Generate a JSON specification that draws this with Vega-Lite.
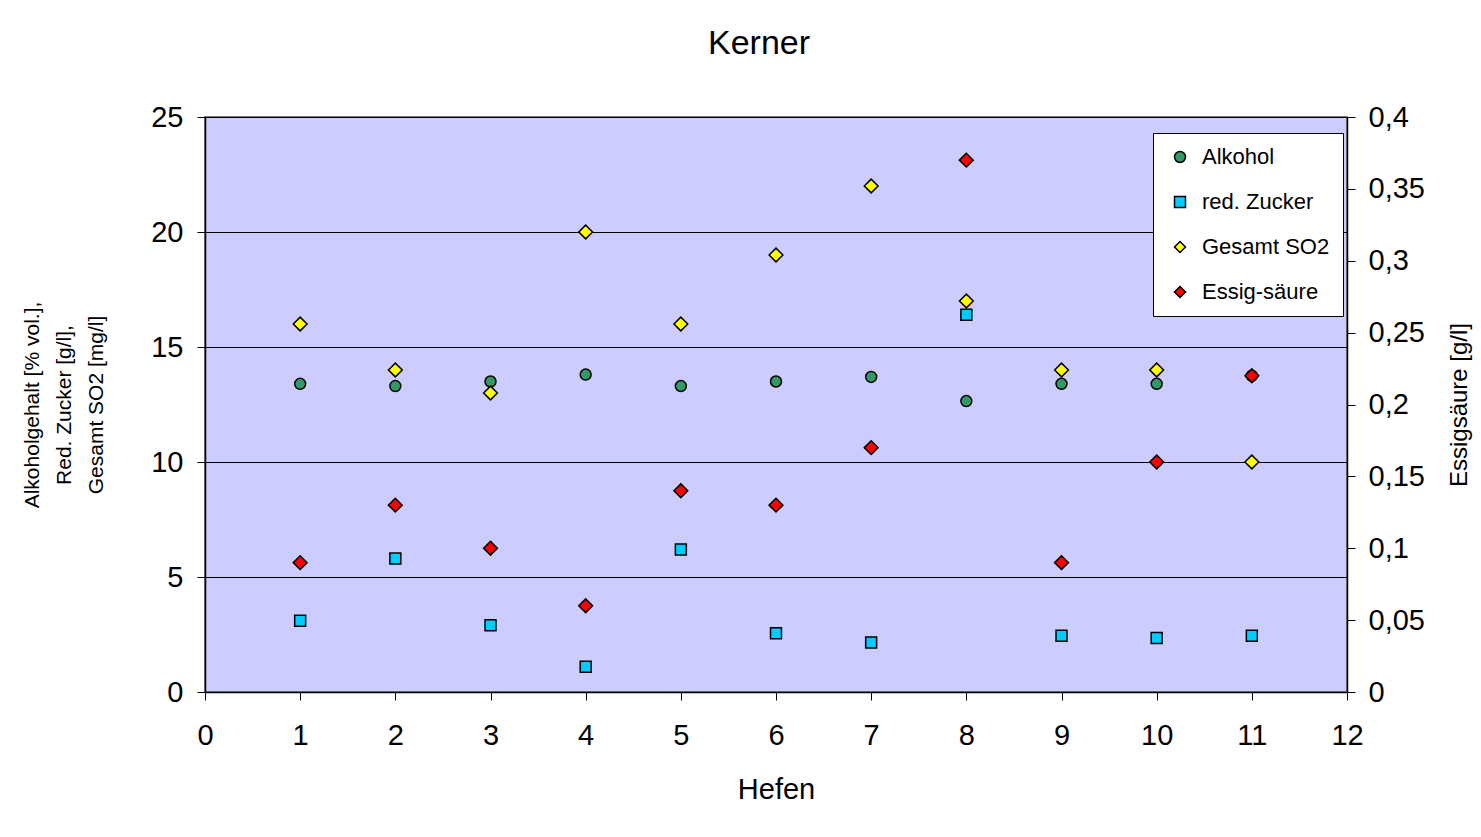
{
  "$schema": "https://vega.github.io/schema/vega-lite/v6.json",
  "autosize": {"type": "none"},
  "width": 1142,
  "height": 575,
  "padding": {"left": 205, "top": 117, "right": 134, "bottom": 145},
  "background": "white",
  "title": {
    "text": "Kerner",
    "fontSize": 34,
    "font": "Liberation Sans",
    "fontWeight": "normal",
    "color": "black",
    "anchor": "middle",
    "offset": 42,
    "dx": -17
  },
  "data": {
    "values": [
      {"hefe": 1, "series": "Alkohol", "value": 13.4},
      {"hefe": 2, "series": "Alkohol", "value": 13.3},
      {"hefe": 3, "series": "Alkohol", "value": 13.5},
      {"hefe": 4, "series": "Alkohol", "value": 13.8},
      {"hefe": 5, "series": "Alkohol", "value": 13.3},
      {"hefe": 6, "series": "Alkohol", "value": 13.5},
      {"hefe": 7, "series": "Alkohol", "value": 13.7},
      {"hefe": 8, "series": "Alkohol", "value": 12.65},
      {"hefe": 9, "series": "Alkohol", "value": 13.4},
      {"hefe": 10, "series": "Alkohol", "value": 13.4},
      {"hefe": 11, "series": "Alkohol", "value": 13.75},
      {"hefe": 1, "series": "red. Zucker", "value": 3.1},
      {"hefe": 2, "series": "red. Zucker", "value": 5.8},
      {"hefe": 3, "series": "red. Zucker", "value": 2.9},
      {"hefe": 4, "series": "red. Zucker", "value": 1.1},
      {"hefe": 5, "series": "red. Zucker", "value": 6.2},
      {"hefe": 6, "series": "red. Zucker", "value": 2.55},
      {"hefe": 7, "series": "red. Zucker", "value": 2.15},
      {"hefe": 8, "series": "red. Zucker", "value": 16.4},
      {"hefe": 9, "series": "red. Zucker", "value": 2.45},
      {"hefe": 10, "series": "red. Zucker", "value": 2.35},
      {"hefe": 11, "series": "red. Zucker", "value": 2.45},
      {"hefe": 1, "series": "Gesamt SO2", "value": 16},
      {"hefe": 2, "series": "Gesamt SO2", "value": 14},
      {"hefe": 3, "series": "Gesamt SO2", "value": 13},
      {"hefe": 4, "series": "Gesamt SO2", "value": 20},
      {"hefe": 5, "series": "Gesamt SO2", "value": 16},
      {"hefe": 6, "series": "Gesamt SO2", "value": 19},
      {"hefe": 7, "series": "Gesamt SO2", "value": 22},
      {"hefe": 8, "series": "Gesamt SO2", "value": 17},
      {"hefe": 9, "series": "Gesamt SO2", "value": 14},
      {"hefe": 10, "series": "Gesamt SO2", "value": 14},
      {"hefe": 11, "series": "Gesamt SO2", "value": 10},
      {"hefe": 1, "series": "Essig-säure", "value": 0.09},
      {"hefe": 2, "series": "Essig-säure", "value": 0.13},
      {"hefe": 3, "series": "Essig-säure", "value": 0.10},
      {"hefe": 4, "series": "Essig-säure", "value": 0.06},
      {"hefe": 5, "series": "Essig-säure", "value": 0.14},
      {"hefe": 6, "series": "Essig-säure", "value": 0.13},
      {"hefe": 7, "series": "Essig-säure", "value": 0.17},
      {"hefe": 8, "series": "Essig-säure", "value": 0.37},
      {"hefe": 9, "series": "Essig-säure", "value": 0.09},
      {"hefe": 10, "series": "Essig-säure", "value": 0.16},
      {"hefe": 11, "series": "Essig-säure", "value": 0.22}
    ]
  },
  "encoding": {
    "x": {
      "field": "hefe",
      "type": "quantitative",
      "scale": {"domain": [0, 12], "nice": false},
      "axis": {
        "title": "Hefen",
        "values": [0, 1, 2, 3, 4, 5, 6, 7, 8, 9, 10, 11, 12],
        "grid": false,
        "labelFlush": false,
        "tickSize": 8,
        "labelPadding": 21,
        "titlePadding": 25,
        "domainColor": "black",
        "tickColor": "black"
      }
    },
    "fill": {
      "field": "series",
      "type": "nominal",
      "scale": {
        "domain": ["Alkohol", "red. Zucker", "Gesamt SO2", "Essig-säure"],
        "range": ["#339966", "#00CCFF", "#FFFF00", "#FF0000"]
      },
      "legend": {
        "title": null,
        "orient": "none",
        "legendX": 948,
        "legendY": 16,
        "padding": 13,
        "fillColor": "white",
        "strokeColor": "black",
        "labelFontSize": 22,
        "labelFont": "Liberation Sans",
        "labelColor": "black",
        "labelOffset": 11,
        "symbolOffset": 3,
        "rowPadding": 23,
        "symbolSize": 120,
        "symbolStrokeColor": "black",
        "symbolStrokeWidth": 1.5,
        "symbolOpacity": 1,
        "encode": {"symbols": {"update": {"stroke": {"value": "black"}, "strokeWidth": {"value": 1.5}}}}
      }
    },
    "shape": {
      "field": "series",
      "type": "nominal",
      "scale": {
        "domain": ["Alkohol", "red. Zucker", "Gesamt SO2", "Essig-säure"],
        "range": ["circle", "square", "diamond", "diamond"]
      },
      "legend": {
        "title": null,
        "orient": "none",
        "legendX": 948,
        "legendY": 16,
        "padding": 13,
        "fillColor": "white",
        "strokeColor": "black",
        "labelFontSize": 22,
        "labelFont": "Liberation Sans",
        "labelColor": "black",
        "labelOffset": 11,
        "symbolOffset": 3,
        "rowPadding": 23,
        "symbolSize": 120,
        "symbolStrokeColor": "black",
        "symbolStrokeWidth": 1.5,
        "symbolOpacity": 1,
        "encode": {"symbols": {"update": {"stroke": {"value": "black"}, "strokeWidth": {"value": 1.5}}}}
      }
    }
  },
  "layer": [
    {
      "layer": [
        {
          "transform": [{"filter": "datum.series === 'Alkohol' || datum.series === 'red. Zucker'"}],
          "mark": {"type": "point", "filled": true, "stroke": "black", "strokeWidth": 1.5, "opacity": 1, "size": 120}
        },
        {
          "transform": [{"filter": "datum.series === 'Gesamt SO2'"}],
          "mark": {"type": "point", "filled": true, "stroke": "black", "strokeWidth": 1.5, "opacity": 1, "size": 190}
        }
      ],
      "encoding": {
        "y": {
          "field": "value",
          "type": "quantitative",
          "scale": {"domain": [0, 25], "nice": false},
          "axis": {
            "orient": "left",
            "values": [0, 5, 10, 15, 20, 25],
            "title": ["Alkoholgehalt [% vol.],", "Red. Zucker [g/l],", "Gesamt SO2 [mg/l]"],
            "titleFontSize": 21,
            "titleLineHeight": 32,
            "titlePadding": 44,
            "grid": true,
            "gridColor": "black",
            "gridOpacity": 1,
            "gridWidth": 1,
            "tickSize": 8,
            "labelPadding": 14,
            "domainColor": "black",
            "tickColor": "black"
          }
        }
      }
    },
    {
      "transform": [{"filter": "datum.series === 'Essig-säure'"}],
      "mark": {"type": "point", "filled": true, "stroke": "black", "strokeWidth": 1.5, "opacity": 1, "size": 190},
      "encoding": {
        "y": {
          "field": "value",
          "type": "quantitative",
          "scale": {"domain": [0, 0.4], "nice": false},
          "axis": {
            "orient": "right",
            "values": [0, 0.05, 0.1, 0.15, 0.2, 0.25, 0.3, 0.35, 0.4],
            "labelExpr": "replace(format(datum.value, '.2~f'), '.', ',')",
            "title": "Essigsäure [g/l]",
            "titleFontSize": 24,
            "titleAngle": 270,
            "titleBaseline": "top",
            "titlePadding": 23,
            "grid": false,
            "tickSize": 8,
            "labelPadding": 13,
            "domainColor": "black",
            "tickColor": "black"
          }
        }
      }
    }
  ],
  "resolve": {"scale": {"y": "independent"}},
  "config": {
    "font": "Liberation Sans",
    "view": {"fill": "#CCCCFF", "stroke": "#808080", "strokeWidth": 2},
    "axis": {
      "labelFontSize": 29,
      "labelFont": "Liberation Sans",
      "labelColor": "black",
      "titleFont": "Liberation Sans",
      "titleFontSize": 29,
      "titleFontWeight": "normal",
      "titleColor": "black",
      "domainWidth": 1.5
    }
  }
}
